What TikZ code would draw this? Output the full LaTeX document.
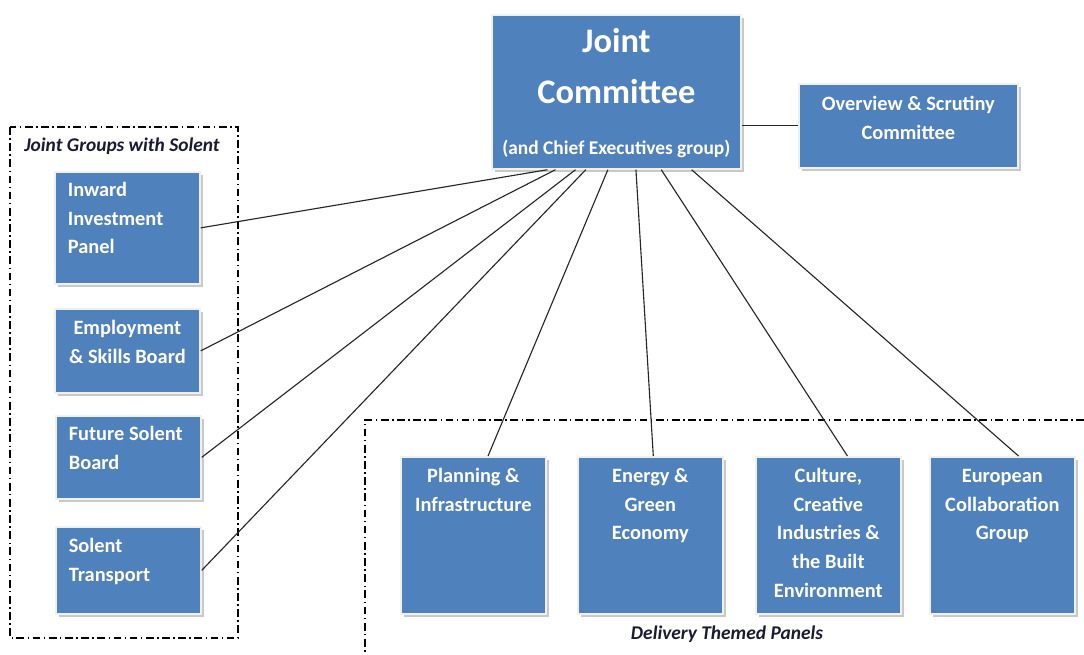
\documentclass[tikz,border=0pt]{standalone}
\usepackage{fontspec}
\setmainfont{Carlito}
\usetikzlibrary{positioning,calc,shadows}
\definecolor{boxblue}{HTML}{4F81BD}
\definecolor{labelnavy}{HTML}{1A1A33}
\tikzstyle{box}=[draw=white!88!gray, line width=1.2pt, fill=boxblue, text=white, inner ysep=0pt, font=\fontsize{14.5}{20.3}\selectfont\bfseries, drop shadow={shadow xshift=2pt, shadow yshift=-2.5pt, fill=gray!60, opacity=0.7}]
\tikzstyle{cbox}=[box, inner xsep=0pt, align=flush center]
\tikzstyle{lbox}=[box, inner xsep=0.325cm, align=flush left, text width=2.975cm]
\tikzstyle{panel}=[cbox, text width=3.625cm, text height=0.65cm, text depth=3.275cm, anchor=north west]
\tikzstyle{grp}=[draw, line width=0.8pt, dash pattern=on 5.5pt off 2.5pt on 1pt off 2.5pt]
\tikzstyle{grplabel}=[text=labelnavy, font=\fontsize{13.8}{16}\selectfont\bfseries\itshape]
\tikzstyle{link}=[draw=black!85, line width=0.8pt]

\begin{document}
\begin{tikzpicture}[x=0.025cm, y=-0.025cm]
	\useasboundingbox (0,0) rectangle (1084,655);
	% group frames
	\draw[grp] (10,127) rectangle (238,638);
	\draw[grp] (1084,420) -- (365,420) -- (365,655);
	\node[grplabel] (JG) at (122,146) {Joint Groups with Solent};
	\node[grplabel] (DP) at (727,634) {Delivery Themed Panels};

	\node[cbox, anchor=north west, text width=6.225cm, text height=0.95cm, text depth=2.9cm, font=\fontsize{24.5}{36}\selectfont\bfseries] (JC) at (491,14) {Joint\\Committee\\{\fontsize{13.8}{15}\selectfont (and Chief Executives group)}};
	\node[cbox, anchor=north west, text width=5.475cm, text height=0.675cm, text depth=1.425cm] (OS) at (798,83) {Overview \& Scrutiny\\Committee};

	\node[lbox, anchor=north west, text height=0.625cm, text depth=2.175cm] (IIP) at (54,171) {Inward\\Investment\\Panel};
	\node[cbox, anchor=north west, text width=3.625cm, text height=0.65cm, text depth=1.45cm] (ESB) at (54,308) {Employment\\\& Skills Board};
	\node[lbox, anchor=north west, text height=0.625cm, text depth=1.45cm] (FSB) at (55,415) {Future Solent\\Board};
	\node[lbox, anchor=north west, text height=0.65cm, text depth=1.525cm] (ST) at (55,526) {Solent\\Transport};

	\node[panel] (PI) at (400,456) {Planning \&\\Infrastructure};
	\node[panel] (EG) at (577,456) {Energy \&\\Green\\Economy};
	\node[panel] (CC) at (755,456) {Culture,\\Creative\\Industries \&\\the Built\\Environment};
	\node[panel] (EC) at (929,456) {European\\Collaboration\\Group};

	\draw[link] (OS.west) -- (OS.west -| JC.east);
	\draw[link] (IIP.east) -- ($(JC.south west)!0.225!(JC.south east)$);
	\draw[link] (ESB.east) -- ($(JC.south west)!0.257!(JC.south east)$);
	\draw[link] (FSB.east) -- ($(JC.south west)!0.337!(JC.south east)$);
	\draw[link] (ST.east) -- ($(JC.south west)!0.378!(JC.south east)$);
	\draw[link] ($(PI.north west)!0.6!(PI.north east)$) -- ($(JC.south west)!0.466!(JC.south east)$);
	\draw[link] ($(EG.north west)!0.52!(EG.north east)$) -- ($(JC.south west)!0.578!(JC.south east)$);
	\draw[link] ($(CC.north west)!0.63!(CC.north east)$) -- ($(JC.south west)!0.679!(JC.south east)$);
	\draw[link] ($(EC.north west)!0.61!(EC.north east)$) -- ($(JC.south west)!0.8!(JC.south east)$);
\end{tikzpicture}
\end{document}
